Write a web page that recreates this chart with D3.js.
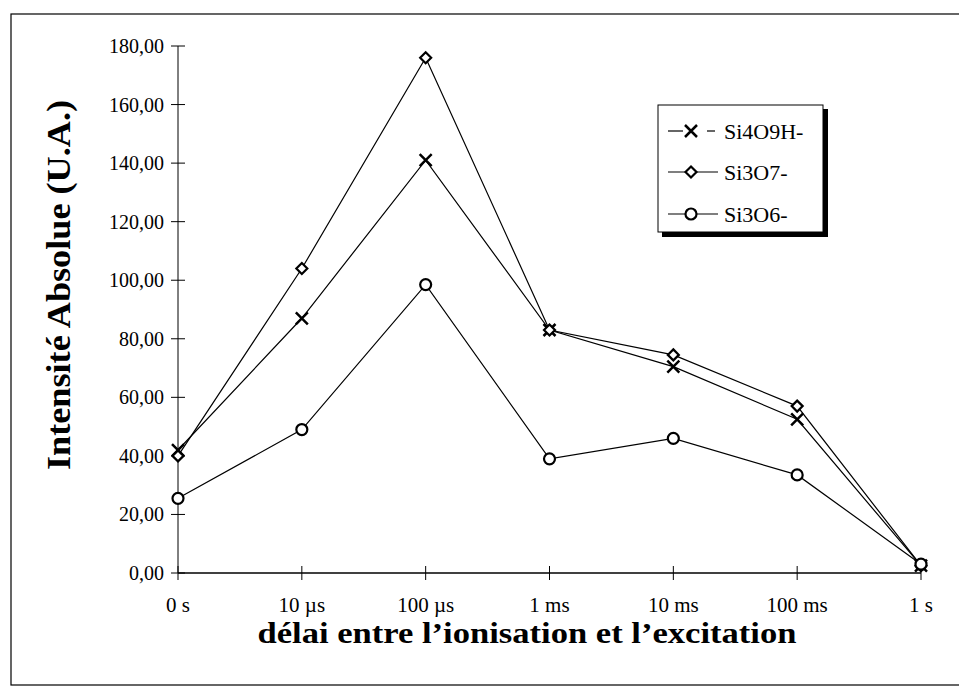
<!DOCTYPE html>
<html><head><meta charset="utf-8">
<script src="https://cdn.jsdelivr.net/npm/d3@7"></script>
<style>body{margin:0;background:#fff}svg{display:block}</style>
</head><body>
<script>
const categories = ["0 s","10 µs","100 µs","1 ms","10 ms","100 ms","1 s"];
const si4o9h = [42, 87, 141, 83, 70.5, 52.5, 2.5];
const si3o7  = [40, 104, 176, 83, 74.5, 57, 2.5];
const si3o6  = [25.5, 49, 98.5, 39, 46, 33.5, 3];
const yTicks = [0,20,40,60,80,100,120,140,160,180];
const seriesNames = ["Si4O9H-","Si3O7-","Si3O6-"];
const seriesMarkers = ["cross","diamond","circle"];

const W=959,H=689;
const svg=d3.select("body").append("svg").attr("width",W).attr("height",H);
const serif="'Liberation Serif','Times New Roman',serif";

// outer frame
svg.append("rect").attr("x",11).attr("y",14).attr("width",960).attr("height",671)
  .attr("fill","none").attr("stroke","#000").attr("stroke-width",1.2);

const x=d3.scalePoint().domain(categories).range([178,921]);
const y=d3.scaleLinear().domain([0,180]).range([573,46]);

// y axis
const gy=svg.append("g").attr("transform","translate(178,0)");
gy.append("line").attr("y1",y(0)).attr("y2",y(180)).attr("stroke","#000");
yTicks.forEach(t=>{
  gy.append("line").attr("x1",-7).attr("x2",7).attr("y1",y(t)).attr("y2",y(t)).attr("stroke","#000");
  gy.append("text").attr("x",-14).attr("y",y(t)).attr("dy","0.35em").attr("text-anchor","end")
    .attr("font-family",serif).attr("font-size",20).text(d3.format(".2f")(t).replace(".",","));
});
// x axis
const gx=svg.append("g");
gx.append("line").attr("x1",x(categories[0])).attr("x2",x(categories[6])).attr("y1",y(0)).attr("y2",y(0)).attr("stroke","#000").attr("stroke-width",1.5);
categories.forEach(c=>{
  gx.append("line").attr("x1",x(c)).attr("x2",x(c)).attr("y1",y(0)-7).attr("y2",y(0)+7).attr("stroke","#000");
  gx.append("text").attr("x",x(c)).attr("y",612).attr("text-anchor","middle")
    .attr("font-family",serif).attr("font-size",21).text(c);
});

// titles
svg.append("text").attr("transform","translate(70,285) rotate(-90)").attr("text-anchor","middle")
  .attr("font-family",serif).attr("font-weight","bold").attr("font-size",33)
  .attr("textLength",370).attr("lengthAdjust","spacingAndGlyphs").text("Intensité Absolue (U.A.)");
svg.append("text").attr("x",527).attr("y",643).attr("text-anchor","middle")
  .attr("font-family",serif).attr("font-weight","bold").attr("font-size",29)
  .attr("textLength",539).attr("lengthAdjust","spacingAndGlyphs").text("délai entre l’ionisation et l’excitation");

function marker(g,type,cx,cy){
  if(type==="cross"){
    const s=6;
    g.append("path").attr("d",`M${cx-s},${cy-s}L${cx+s},${cy+s}M${cx-s},${cy+s}L${cx+s},${cy-s}`)
      .attr("stroke","#000").attr("stroke-width",2.5).attr("fill","none");
  } else if(type==="diamond"){
    const s=5.5;
    g.append("path").attr("d",`M${cx},${cy-s}L${cx+s},${cy}L${cx},${cy+s}L${cx-s},${cy}Z`)
      .attr("stroke","#000").attr("stroke-width",2.2).attr("fill","#fff");
  } else {
    g.append("circle").attr("cx",cx).attr("cy",cy).attr("r",5.5)
      .attr("stroke","#000").attr("stroke-width",2.2).attr("fill","#fff");
  }
}

const allSeries=[si4o9h,si3o7,si3o6];
const line=d3.line().x((d,i)=>x(categories[i])).y(d=>y(d));
allSeries.forEach((s,k)=>{
  svg.append("path").attr("d",line(s)).attr("fill","none").attr("stroke","#000").attr("stroke-width",1.2);
});
allSeries.forEach((s,k)=>{
  const g=svg.append("g");
  s.forEach((v,i)=>marker(g,seriesMarkers[k],x(categories[i]),y(v)));
});

// legend
const lg=svg.append("g");
lg.append("rect").attr("x",662).attr("y",109).attr("width",166).attr("height",128).attr("fill","#000");
lg.append("rect").attr("x",658).attr("y",105).attr("width",165).attr("height",127).attr("fill","#fff").attr("stroke","#000").attr("stroke-width",1);
const rowsY=[131,172,214];
seriesNames.forEach((n,k)=>{
  const yy=rowsY[k];
  if(k===0){
    lg.append("line").attr("x1",668).attr("x2",683).attr("y1",yy).attr("y2",yy).attr("stroke","#000").attr("stroke-width",1.2);
    lg.append("line").attr("x1",707).attr("x2",715).attr("y1",yy).attr("y2",yy).attr("stroke","#000").attr("stroke-width",1.2);
  } else {
    lg.append("line").attr("x1",668).attr("x2",718).attr("y1",yy).attr("y2",yy).attr("stroke","#000").attr("stroke-width",1.2);
  }
  marker(lg,seriesMarkers[k],691,yy);
  lg.append("text").attr("x",724).attr("y",yy).attr("dy","0.35em").attr("font-family",serif).attr("font-size",22).text(n);
});
</script>
</body></html>
